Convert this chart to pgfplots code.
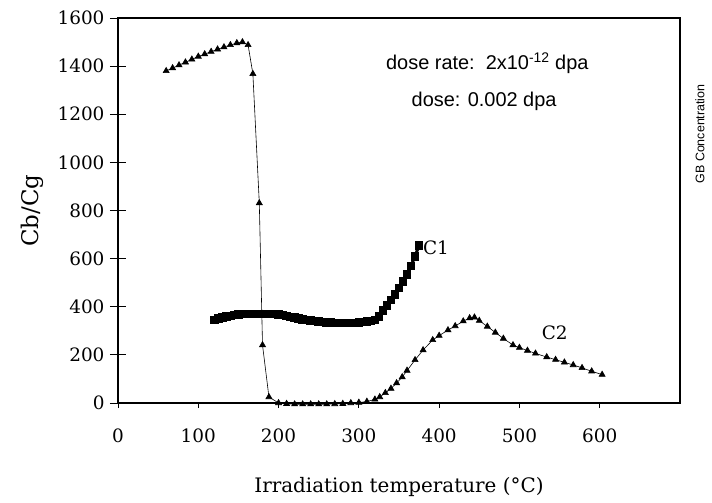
\documentclass[border=0pt]{standalone}
\usepackage{fontspec}
\setmainfont{DejaVu Serif}
\newfontfamily\sansf{Liberation Sans}
\usepackage{pgfplots}
\pgfplotsset{compat=1.18}
\begin{document}
\begin{tikzpicture}
\begin{axis}[
  name=ax,
  scale only axis,
  width=562bp, height=385bp,
  xmin=0, xmax=700, ymin=0, ymax=1600,
  xtick={0,100,...,600}, ytick={0,200,...,1600},
  xtick pos=bottom, ytick pos=left,
  axis line style={line width=1.2pt},
  tick align=center,
  major tick length=16bp,
  tick style={black, line width=0.9pt},
  xtick style={/pgfplots/major tick length=5bp, yshift=-2.5bp, line width=0.8pt},
  /pgf/number format/assume math mode=true,
  /pgf/number format/set thousands separator={},
  ticklabel style={font=\fontsize{18.5}{18.5}\selectfont},
  yticklabel style={xshift=-2bp},
  xticklabel style={yshift=-14bp},
  clip=false,
]
\addplot[black, line width=0.6pt, mark=triangle*, mark size=3.5pt, mark options={solid}] coordinates {
(60,1380) (68,1392) (76,1404) (84,1416) (92,1428) (100,1440) (108,1450) (116,1460)
(124,1470) (132,1479) (140,1488) (148,1496) (155,1500) (162,1488) (168,1368)
(176,831) (180,241) (188,25) (200,0) (210,-3) (220,-5) (230,-5) (240,-5) (250,-5)
(260,-5) (270,-4) (280,-3) (290,0) (300,2) (310,6) (320,15) (326,25) (333,42)
(340,60) (347,83) (354,108) (360,135) (370,179) (380,220) (392,262) (400,280)
(411,303) (420,320) (430,340) (438,353) (444,356) (450,342) (460,318) (470,293)
(480,268) (492,241) (500,230) (510,218) (520,206) (534,191) (545,180) (556,169)
(567,158) (578,146) (590,132) (603,118)
};
\addplot[black, line width=3pt, mark=square*, mark size=2.8pt] coordinates {
(120,345) (125,350) (130,355) (135,359) (140,362) (145,365) (150,367) (155,369)
(160,370) (165,370) (170,370) (175,370) (180,370) (185,370) (190,370) (195,369)
(200,368) (205,365) (210,362) (215,358) (220,355) (225,351) (230,348) (235,345)
(240,342) (245,340) (250,338) (255,336) (260,335) (265,334) (270,333) (275,332)
(280,332) (285,332) (290,332) (295,333) (300,334) (305,336) (310,338) (315,341)
(320,345) (325,360) (330,385) (335,405) (340,428) (345,450) (350,478) (355,505)
(360,535) (365,570) (370,610) (375,655)
};
\node[font=\fontsize{18.5}{18.5}\selectfont] at (axis cs:396,644) {C1};
\node[font=\fontsize{18.5}{18.5}\selectfont] at (axis cs:544,291) {C2};
\node[font=\sansf\fontsize{20}{20}\selectfont] at (axis cs:460,1413) {dose rate:\ \ 2x10\textsuperscript{-12} dpa};
\node[font=\sansf\fontsize{20}{20}\selectfont] at (axis cs:456,1254) {dose: 0.002 dpa};
\node[font=\sansf\fontsize{12.5}{12.5}\selectfont, rotate=90] at ([xshift=20bp]rel axis cs:1,0.699) {GB Concentration};
\node[font=\fontsize{20}{20}\selectfont] at ([yshift=-84bp]rel axis cs:0.5,0) {Irradiation temperature (°C)};
\node[font=\fontsize{23}{23}\selectfont, rotate=90] at ([xshift=-86bp]rel axis cs:0,0.5) {Cb/Cg};
\end{axis}
\path ([xshift=-118bp,yshift=-100bp]ax.south west) rectangle ([xshift=32bp,yshift=18bp]ax.north east);
\end{tikzpicture}
\end{document}
